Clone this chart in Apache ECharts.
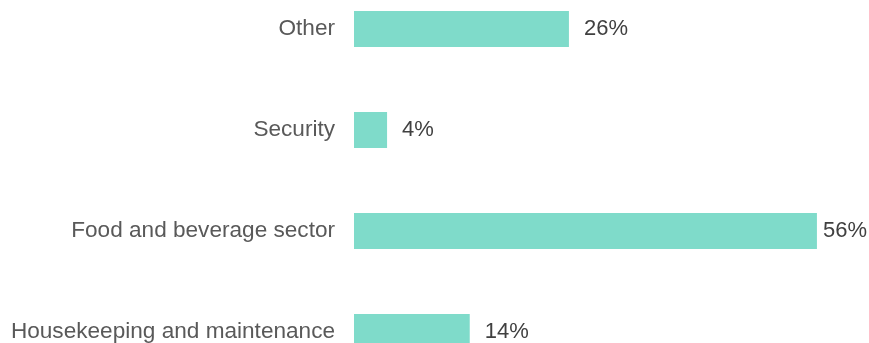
<!DOCTYPE html>
<html>
<head>
<meta charset="utf-8">
<script src="https://cdn.jsdelivr.net/npm/echarts@6/dist/echarts.min.js"></script>
<style>
  html, body { margin: 0; padding: 0; background: #ffffff; }
  #chart { width: 869px; height: 343px; }
</style>
</head>
<body>
<div id="chart"></div>
<script>
// Categories listed bottom to top, as the category axis draws them
const categories = ['Housekeeping and maintenance', 'Food and beverage sector', 'Security', 'Other'];
const shares = [14, 56, 4, 26];

const FONT = '"Liberation Sans", Arial, Helvetica, sans-serif';
const CHART_W = 869;

const chart = echarts.init(document.getElementById('chart'), null, { renderer: 'canvas' });
chart.setOption({
  animation: false,
  backgroundColor: '#ffffff',
  grid: {
    left: 354,
    right: 19,
    top: -21.5,
    height: 404,
    containLabel: false,
    outerBoundsMode: 'none'
  },
  xAxis: {
    type: 'value',
    min: 0,
    max: 60,
    show: false
  },
  yAxis: {
    type: 'category',
    data: categories,
    axisLine: { show: false },
    axisTick: { show: false },
    splitLine: { show: false },
    axisLabel: {
      color: '#595959',
      fontSize: 22.6,
      fontFamily: FONT,
      margin: 19
    }
  },
  series: [{
    type: 'bar',
    data: shares,
    barWidth: 36,
    itemStyle: { color: '#7fdbca' },
    label: {
      show: true,
      position: 'right',
      distance: 15,
      formatter: '{c}%',
      color: '#404040',
      fontSize: 22,
      fontFamily: FONT
    },
    // keep value labels inside the canvas when a bar runs close to the edge
    labelLayout: function (params) {
      const r = params.labelRect;
      if (r.x + r.width > CHART_W - 2) {
        return {
          x: CHART_W - 2 - r.width,
          y: r.y,
          align: 'left',
          verticalAlign: 'top'
        };
      }
      return {};
    }
  }]
});
</script>
</body>
</html>
